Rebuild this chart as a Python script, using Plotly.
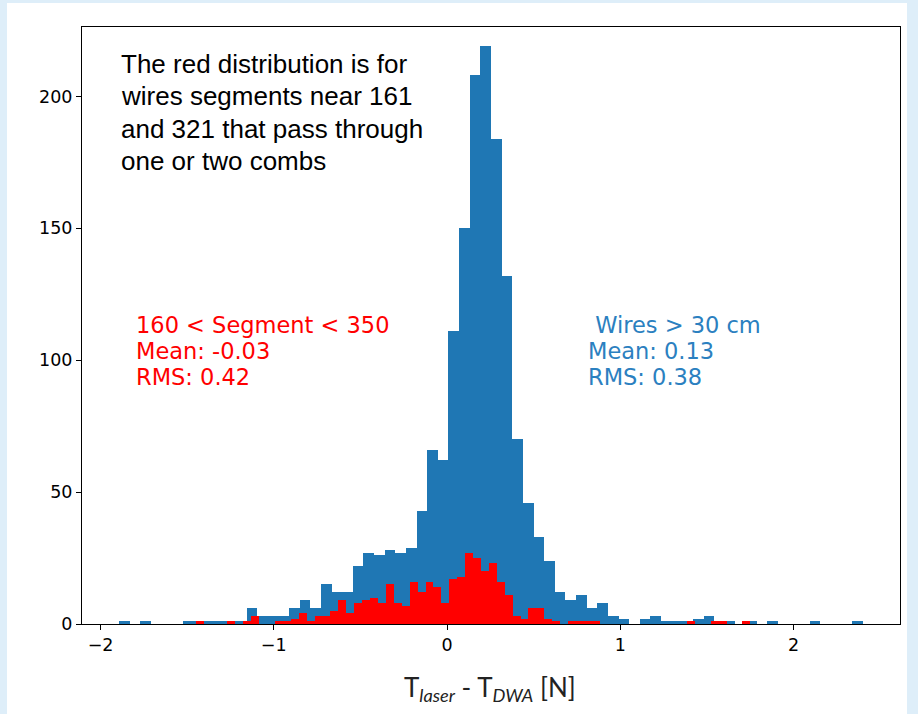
import plotly.graph_objects as go

# Histogram binning (70 equal bins for each sample)
N_BINS = 70
blue_lo, blue_hi = -1.893, 2.401
red_lo, red_hi = -1.4504, 1.751

# Counts per bin: all wires longer than 30 cm
blue_counts = [
    1, 0, 1, 0, 0, 0, 1, 1, 1, 1,
    1, 1, 6, 3, 3, 3, 6, 9, 6, 15,
    12, 12, 22, 27, 26, 28, 27, 29, 43, 66,
    62, 111, 150, 208, 219, 184, 132, 70, 46, 33,
    24, 12, 9, 11, 6, 8, 3, 2, 0, 2,
    3, 1, 1, 1, 2, 3, 1, 1, 0, 1,
    0, 1, 0, 0, 0, 1, 0, 0, 0, 1,
]

# Counts per bin: segments 160 < s < 350
red_counts = [
    1, 0, 0, 0, 1, 0, 1, 3, 0, 0,
    1, 1, 2, 4, 1, 3, 3, 5, 9, 4,
    8, 9, 10, 8, 15, 8, 7, 16, 12, 16,
    14, 8, 17, 18, 27, 25, 20, 23, 16, 11,
    3, 2, 6, 6, 2, 1, 0, 1, 1, 1,
    1, 0, 0, 0, 0, 0, 0, 0, 0, 0,
    0, 0, 1, 0, 0, 1, 1, 0, 0, 1,
]

x_ticks = [-2, -1, 0, 1, 2]
y_ticks = [0, 50, 100, 150, 200]

red_label = ["160 < Segment < 350", "Mean: -0.03", "RMS: 0.42"]
blue_label = ["\u00a0Wires > 30 cm", "Mean: 0.13", "RMS: 0.38"]
note_lines = [
    "The red distribution is for",
    "wires segments near 161",
    "and 321 that pass through",
    "one or two combs",
]


def bin_centers(lo, hi, n):
    w = (hi - lo) / n
    return [lo + (i + 0.5) * w for i in range(n)], w


bx, bw = bin_centers(blue_lo, blue_hi, N_BINS)
rx, rw = bin_centers(red_lo, red_hi, N_BINS)

BLUE = "#1f77b4"
RED = "#ff0000"

fig = go.Figure()
fig.add_trace(go.Bar(x=bx, y=blue_counts, width=bw, marker=dict(color=BLUE, line=dict(width=0)),
                     showlegend=False))
fig.add_trace(go.Bar(x=rx, y=red_counts, width=rw, marker=dict(color=RED, line=dict(width=0)),
                     showlegend=False))

W, H = 918, 714
L, R, T, B = 82, 18, 27, 90
PW, PH = W - L - R, H - T - B


def px(xpix):
    return (xpix - L) / PW


def py(ypix):
    return (H - B - ypix) / PH


annotations = []
for i, line in enumerate(note_lines):
    annotations.append(dict(
        text=line, x=px(119), y=py(64 + i * 32.3), xref="paper", yref="paper",
        xanchor="left", yanchor="middle", showarrow=False,
        font=dict(family="Liberation Sans, Arial", size=26, color="black"),
    ))
for i, line in enumerate(red_label):
    annotations.append(dict(
        text=line, x=px(134), y=py(325 + i * 26), xref="paper", yref="paper",
        xanchor="left", yanchor="middle", showarrow=False,
        font=dict(family="DejaVu Sans", size=22.5, color=RED),
    ))
for i, line in enumerate(blue_label):
    annotations.append(dict(
        text=line, x=px(586), y=py(325 + i * 26), xref="paper", yref="paper",
        xanchor="left", yanchor="middle", showarrow=False,
        font=dict(family="DejaVu Sans", size=22.5, color="#2b80c0"),
    ))
annotations.append(dict(
    text="T<sub><i>laser</i></sub> - T<sub><i>DWA</i></sub> [N]",
    x=px(490), y=py(688), xref="paper", yref="paper",
    xanchor="center", yanchor="middle", showarrow=False,
    font=dict(family="Lato, Open Sans", size=26, color="#222222"),
))

fig.update_layout(
    width=W, height=H, autosize=False,
    margin=dict(l=L, r=R, t=T, b=B, pad=0),
    paper_bgcolor="#deeef9",
    plot_bgcolor="white",
    barmode="overlay",
    bargap=0,
    annotations=annotations,
    shapes=[dict(type="rect", xref="paper", yref="paper",
                 x0=px(7), x1=px(907), y0=py(H + 5), y1=py(3),
                 fillcolor="white", line=dict(width=0), layer="below")],
)

tick_font = dict(family="DejaVu Sans", size=17.5, color="black")
axis_common = dict(
    showline=True, mirror=True, linecolor="black", linewidth=1,
    ticks="outside", ticklen=5, tickwidth=1, tickcolor="black",
    showgrid=False, zeroline=False,
)
fig.update_xaxes(range=[-2.107, 2.615], tickvals=x_ticks, tickfont=tick_font, **axis_common)
fig.update_yaxes(range=[0, 226.3], tickvals=y_ticks, tickfont=tick_font, **axis_common)

fig.write_html("out.html")
